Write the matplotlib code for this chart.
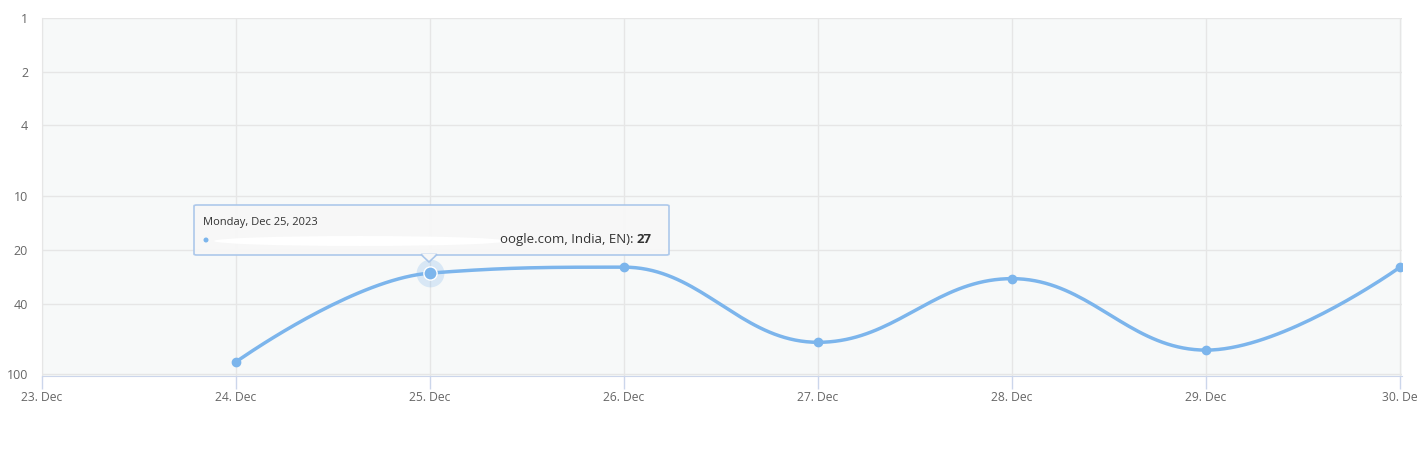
import numpy as np
import matplotlib
matplotlib.use("Agg")
import matplotlib.pyplot as plt
from matplotlib.patches import FancyBboxPatch, Polygon, Ellipse

# dane
days = [24, 25, 26, 27, 28, 29, 30]
ranks = [85, 27, 25, 66, 29, 73, 25]
x_ticks = [23, 24, 25, 26, 27, 28, 29, 30]
x_labels = ["23. Dec", "24. Dec", "25. Dec", "26. Dec", "27. Dec", "28. Dec", "29. Dec", "30. De"]
y_ticks = [1, 2, 4, 10, 20, 40, 100]

tooltip_date = "Monday, Dec 25, 2023"
tooltip_text = "oogle.com, India, EN): "
tooltip_value = "27"

LINE = "#7cb5ec"
GRID = "#e6e6e6"
LABEL = "#666666"

plt.rcParams['font.family'] = ['Open Sans', 'DejaVu Sans']


def spline_path(xs, ys, smoothing=1.5, n=40):
    # krzywa w stylu highcharts (bezier), liczona w przestrzeni (x, log y)
    ly = np.log10(ys)
    xs = np.asarray(xs, float)
    cnt = len(xs)
    lc = [None] * cnt
    rc = [None] * cnt
    d = smoothing + 1
    for i in range(cnt):
        if 0 < i < cnt - 1:
            lx = (smoothing * xs[i] + xs[i - 1]) / d
            lyy = (smoothing * ly[i] + ly[i - 1]) / d
            rx = (smoothing * xs[i] + xs[i + 1]) / d
            ryy = (smoothing * ly[i] + ly[i + 1]) / d
            corr = (ryy - lyy) * (rx - xs[i]) / (rx - lx) + ly[i] - ryy
            lyy += corr
            ryy += corr
            lo, hi = sorted([ly[i - 1], ly[i]])
            if lyy > hi:
                lyy = hi; ryy = 2 * ly[i] - lyy
            elif lyy < lo:
                lyy = lo; ryy = 2 * ly[i] - lyy
            lo, hi = sorted([ly[i + 1], ly[i]])
            if ryy > hi:
                ryy = hi; lyy = 2 * ly[i] - ryy
            elif ryy < lo:
                ryy = lo; lyy = 2 * ly[i] - ryy
            lc[i] = (lx, lyy)
            rc[i] = (rx, ryy)
        else:
            lc[i] = (xs[i], ly[i])
            rc[i] = (xs[i], ly[i])
    px, py = [], []
    t = np.linspace(0, 1, n)
    for i in range(cnt - 1):
        p0 = np.array([xs[i], ly[i]])
        p1 = np.array(rc[i])
        p2 = np.array(lc[i + 1])
        p3 = np.array([xs[i + 1], ly[i + 1]])
        b = ((1 - t) ** 3)[:, None] * p0 + (3 * (1 - t) ** 2 * t)[:, None] * p1 \
            + (3 * (1 - t) * t ** 2)[:, None] * p2 + (t ** 3)[:, None] * p3
        px.extend(b[:, 0]); py.extend(b[:, 1])
    return np.array(px), 10 ** np.array(py)


fig = plt.figure(figsize=(14.24, 4.62), dpi=100)
ax = fig.add_axes([42 / 1424, 86 / 462, 1360 / 1424, 358 / 462])
ax.set_facecolor("#f7f9f9")

ax.set_yscale("log")
ax.set_ylim(102, 1)
ax.set_xlim(23, 30.01)

ax.set_yticks(y_ticks)
ax.set_yticklabels([str(v) for v in y_ticks])
ax.yaxis.set_minor_locator(matplotlib.ticker.NullLocator())
ax.set_xticks(x_ticks)
ax.set_xticklabels(x_labels)

ax.grid(True, color=GRID, linewidth=1)
ax.set_axisbelow(True)
ax.tick_params(axis="y", length=0, pad=10, labelsize=9, labelcolor=LABEL)
ax.tick_params(axis="x", length=9, width=1, color="#ccd6eb", pad=2,
               labelsize=8.7, labelcolor=LABEL)

for s in ["top", "right"]:
    ax.spines[s].set_visible(False)
ax.spines["left"].set_color(GRID)
ax.spines["bottom"].set_color("#ccd6eb")

sx, sy = spline_path(days, ranks)
ax.plot(sx, sy, color=LINE, linewidth=2.5, solid_capstyle="round", zorder=3)
ax.plot(days, ranks, "o", color=LINE, markersize=6, zorder=4)

# podświetlony punkt
ax.plot([25], [27], "o", color=LINE, markersize=20, alpha=0.25, markeredgewidth=0, zorder=4)
ax.plot([25], [27], "o", color=LINE, markersize=9.5, markeredgecolor="white",
        markeredgewidth=1, zorder=5)

# tooltip (współrzędne pikselowe figury)
tr = fig.transFigure


def fp(x, y):
    return (x / 1424, 1 - y / 462)


bx0, by0 = fp(194, 255)
bx1, by1 = fp(669, 205)
box = FancyBboxPatch((bx0, by0), bx1 - bx0, by1 - by0, transform=tr,
                     boxstyle="round,pad=0,rounding_size=0.002",
                     facecolor="#f7f7f7", edgecolor="#a9c6ea", linewidth=1.2,
                     alpha=0.95, zorder=10)
fig.patches.append(box)
tri = Polygon([fp(421, 254.5), fp(437, 254.5), fp(429, 262)], closed=True,
              transform=tr, facecolor="#f7f7f7", edgecolor="#a9c6ea",
              linewidth=1.2, zorder=10)
fig.patches.append(tri)
cover = Polygon([fp(422, 254), fp(436, 254), fp(429, 260)], closed=True,
                transform=tr, facecolor="#f7f7f7", edgecolor="none", zorder=11)
fig.patches.append(cover)

fig.text(*fp(203, 223), tooltip_date, fontsize=8, color="#333333", va="center", zorder=12)
fig.patches.append(Ellipse(fp(206, 240), 5 / 1424, 5 / 462, transform=tr,
                           facecolor=LINE, edgecolor="none", zorder=12))
fig.patches.append(Ellipse(fp(360, 241), 292 / 1424, 10 / 462, transform=tr,
                           facecolor="white", edgecolor="none", zorder=12))
fig.text(*fp(637, 240), tooltip_value, fontsize=9.5, color="#333333",
         fontweight="bold", va="center", ha="left", zorder=12)
fig.text(*fp(637, 240), tooltip_text, fontsize=9.5, color="#333333",
         va="center", ha="right", zorder=12)

fig.savefig("out.png", dpi=100, facecolor="white")
